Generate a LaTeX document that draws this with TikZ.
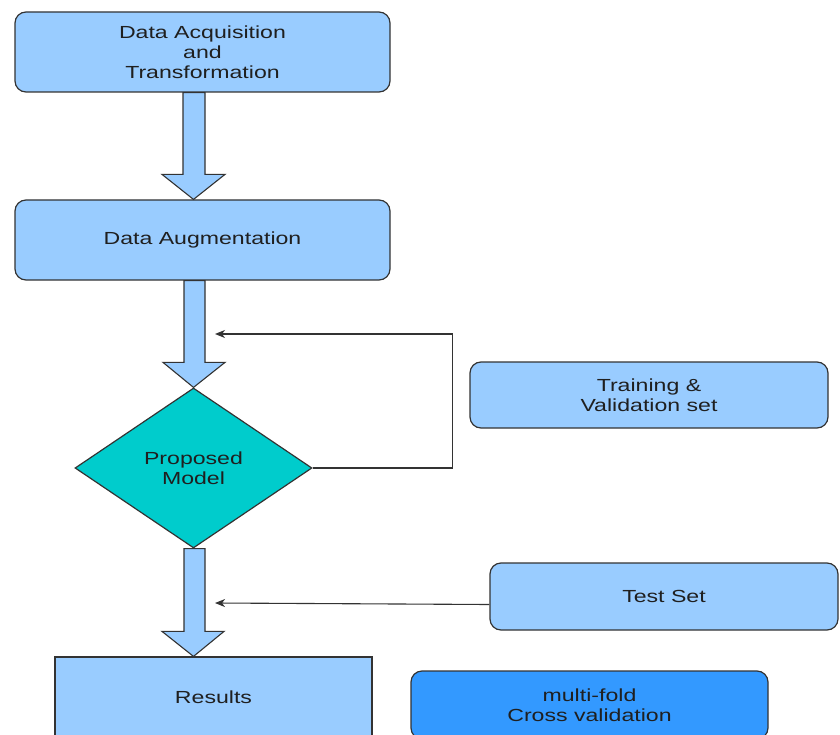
\documentclass[tikz,border=0pt]{standalone}
\usepackage{fontspec}
\setmainfont{Liberation Sans}[FakeStretch=1.32]
\usetikzlibrary{shapes.geometric,arrows.meta,calc}
\definecolor{lb}{HTML}{99CCFF}
\definecolor{teal2}{HTML}{00CCCC}
\definecolor{db}{HTML}{3399FF}
\definecolor{edge}{HTML}{333333}
\begin{document}
\begin{tikzpicture}[x=1pt,y=-1pt,
  every node/.style={font=\fontsize{17.5}{20}\selectfont, text=black!88, align=center},
  lbox/.style={draw=edge, fill=lb, line width=1.2pt, rounded corners=11pt},
  sbox/.style={draw=edge, fill=lb, line width=1.2pt},
  dbox/.style={draw=edge, fill=db, line width=1.2pt, rounded corners=11pt},
  diam/.style={diamond, draw=edge, fill=teal2, line width=1.2pt, aspect=1.48, inner sep=0pt},
  barrow/.style={draw=edge, fill=lb, line width=1.1pt, line join=miter},
  arr/.style={draw=edge, line width=1.1pt, -{Stealth[length=10pt,width=8pt,inset=3pt]}}]
\useasboundingbox (0,0) rectangle (840,735);
\begin{scope}
\clip (0,0) rectangle (840,735);
\node[lbox, minimum width=375pt, minimum height=80pt] (acq) at (202.5,52) {Data Acquisition\\and\\Transformation};
\node[lbox, minimum width=375pt, minimum height=80pt] (aug) at (202.5,240) {Data Augmentation};
\node[diam, minimum width=237pt, minimum height=160pt] (mod) at (193.5,468) {Proposed\\Model};
\node[lbox, minimum width=358pt, minimum height=66pt] (train) at (649,395) {Training \&\\ Validation set};
\node[lbox, minimum width=348pt, minimum height=67pt] (test) at (664,596.5) {Test Set};
\node[sbox, minimum width=317pt, minimum height=80pt] (res) at (213.5,697) {Results};
\node[dbox, minimum width=357pt, minimum height=68pt] (cv) at (589.5,705) {multi-fold\\Cross validation};
% block arrows
\coordinate (h1) at ($(aug.north)+(0,-25)$);
\draw[barrow] (183,0 |- acq.south) -- (183,0 |- h1) -- (162,0 |- h1) -- (193.5,0 |- aug.north) -- (225,0 |- h1) -- (205,0 |- h1) -- (205,0 |- acq.south) -- cycle;
\coordinate (h2) at ($(mod.north)+(0,-25)$);
\draw[barrow] (184,0 |- aug.south) -- (184,0 |- h2) -- (163,0 |- h2) -- (193.5,0 |- mod.north) -- (225,0 |- h2) -- (205,0 |- h2) -- (205,0 |- aug.south) -- cycle;
\coordinate (h3) at ($(res.north)+(0,-25)$);
\draw[barrow] (184,0 |- mod.south) -- (184,0 |- h3) -- (162,0 |- h3) -- (193.5,0 |- res.north) -- (224,0 |- h3) -- (205,0 |- h3) -- (205,0 |- mod.south) -- cycle;
% connectors
\coordinate (fb) at (215,334);
\draw[arr] (mod.east) -- ++(140,0) |- (fb);
\coordinate (tin) at (215,603);
\draw[arr] ([yshift=-8pt]test.west) -- (tin);
\end{scope}
\end{tikzpicture}
\end{document}
